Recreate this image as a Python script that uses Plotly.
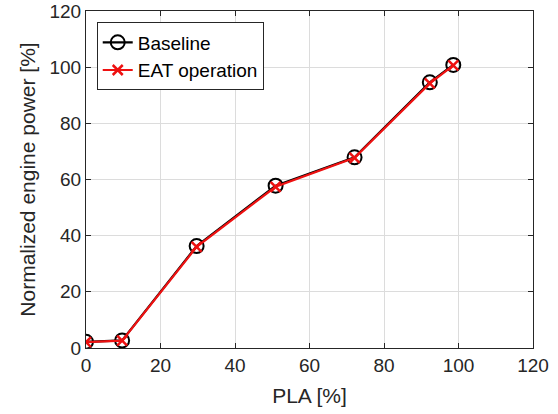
import plotly.graph_objects as go

pla = [0, 9.7, 29.7, 50.9, 72.1, 92.3, 98.6]
baseline = [2.2, 2.7, 36.3, 57.8, 67.9, 94.6, 100.8]
eat = [2.1, 2.6, 36.0, 57.4, 67.7, 94.2, 100.6]

xticks = [0, 20, 40, 60, 80, 100, 120]
yticks = [0, 20, 40, 60, 80, 100, 120]

font = "Liberation Sans, Arial, sans-serif"
axcol = "#262626"

fig = go.Figure()
fig.add_trace(go.Scatter(
    x=pla, y=baseline, name="Baseline", mode="lines+markers",
    line=dict(color="black", width=2.2),
    marker=dict(symbol="circle-open", size=14, color="black", line=dict(width=2)),
))
fig.add_trace(go.Scatter(
    x=pla, y=eat, name="EAT operation", mode="lines+markers",
    line=dict(color="#ee1111", width=2.2),
    marker=dict(symbol="x-thin-open", size=10, color="#ee1111", line=dict(width=2.5, color="#ee1111")),
))

axis_common = dict(
    showgrid=True, gridcolor="#dcdcdc", gridwidth=1,
    showline=True, linecolor=axcol, linewidth=1, mirror="ticks",
    ticks="inside", ticklen=5, tickcolor=axcol,
    tickfont=dict(family=font, size=19, color=axcol),
    zeroline=False, automargin=False,
)

fig.update_layout(
    width=558, height=414,
    margin=dict(l=86, r=25, t=11, b=66),
    paper_bgcolor="white", plot_bgcolor="white",
    showlegend=True,
    legend=dict(
        x=0.024, y=0.966, xanchor="left", yanchor="top",
        bgcolor="white", bordercolor=axcol, borderwidth=1,
        font=dict(family=font, size=19, color="black"),
        tracegroupgap=0, itemwidth=30,
    ),
    xaxis=dict(range=[0, 120], tickvals=xticks,
               title=dict(text="PLA [%]", font=dict(family=font, size=21, color=axcol), standoff=13),
               **axis_common),
    yaxis=dict(range=[0, 120], tickvals=yticks,
               title=dict(text="Normalized engine power [%]", font=dict(family=font, size=21, color=axcol), standoff=8),
               **axis_common),
)

fig.write_html("out.html")
